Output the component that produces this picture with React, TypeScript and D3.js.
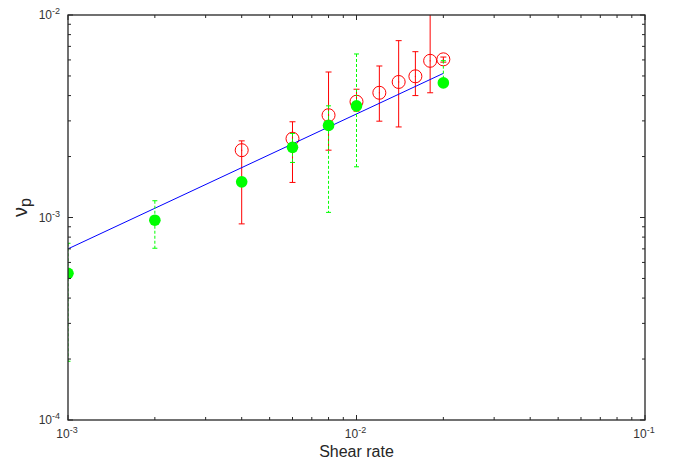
import React from "react";
import * as d3 from "d3";

// filled green series
const greenX = [0.001, 0.002, 0.004, 0.006, 0.008, 0.01, 0.02];
const greenY = [5.3e-4, 9.7e-4, 1.5e-3, 2.22e-3, 2.85e-3, 3.56e-3, 4.62e-3];
const greenLo = [1.95e-4, 7.05e-4, 1.45e-3, 1.87e-3, 1.06e-3, 1.78e-3, 4.4e-3];
const greenHi = [7.46e-4, 1.21e-3, 1.56e-3, 2.6e-3, 3.56e-3, 6.42e-3, 5.95e-3];

// open red series
const redX = [0.004, 0.006, 0.008, 0.01, 0.012, 0.014, 0.016, 0.018, 0.02];
const redY = [2.15e-3, 2.45e-3, 3.2e-3, 3.73e-3, 4.13e-3, 4.67e-3, 4.98e-3, 5.94e-3, 6.04e-3];
const redLo = [9.3e-4, 1.49e-3, 2.15e-3, 3.35e-3, 2.99e-3, 2.8e-3, 4.0e-3, 4.13e-3, 5.85e-3];
const redHi = [2.39e-3, 2.97e-3, 5.23e-3, 4.3e-3, 5.6e-3, 7.47e-3, 6.59e-3, 1.3e-2, 6.2e-3];

// power-law fit line
const fitX = [0.001, 0.02];
const fitY = [7.0e-4, 5.15e-3];

const xExp = ["-3", "-2", "-1"];
const yExp = ["-4", "-3", "-2"];

const W = 684;
const H = 463;
const m = { left: 68, right: 39, top: 15, bottom: 43 };
const font = "'Liberation Sans', Arial, Helvetica, sans-serif";
const axisColor = "#262626";

export default function App() {
  const x = d3.scaleLog().domain([1e-3, 1e-1]).range([m.left, W - m.right]);
  const y = d3.scaleLog().domain([1e-4, 1e-2]).range([H - m.bottom, m.top]);
  const [x0, x1] = x.range();
  const [y0, y1] = y.range();

  const isMajor = (v: number) => Math.abs(Math.log10(v) - Math.round(Math.log10(v))) < 1e-9;
  const xTicks = x.ticks();
  const yTicks = y.ticks();

  const line = d3
    .line<number>()
    .x((_, i) => x(fitX[i]))
    .y((d) => y(d));

  const errBar = (
    xs: number[], lo: number[], hi: number[], color: string, dash: string | undefined, cap: number, key: string
  ) =>
    xs.map((xv, i) => {
      const cx = x(xv);
      const top = y(hi[i]);
      const bot = y(lo[i]);
      return (
        <g key={key + i} stroke={color} strokeWidth={1} fill="none">
          <line x1={cx} x2={cx} y1={top} y2={bot} strokeDasharray={dash} />
          {top >= y1 && <line x1={cx - cap} x2={cx + cap} y1={top} y2={top} />}
          <line x1={cx - cap} x2={cx + cap} y1={bot} y2={bot} />
        </g>
      );
    });

  return (
    <svg width={W} height={H} style={{ position: "absolute", left: 0, top: 0, background: "#fff" }}>
      <defs>
        <clipPath id="plot">
          <rect x={x0} y={y1} width={x1 - x0} height={y0 - y1} />
        </clipPath>
      </defs>

      <g clipPath="url(#plot)">
        {errBar(redX, redLo, redHi, "#ff0000", undefined, 3, "re")}
        {redX.map((xv, i) => (
          <g key={"rc" + i}>
            <circle cx={x(xv)} cy={y(redY[i])} r={6.5} fill="none" stroke="#ff0000" strokeWidth={1} />
            <circle cx={x(xv)} cy={y(redY[i])} r={0.6} fill="#ff0000" />
          </g>
        ))}
        <path d={line(fitY) || ""} fill="none" stroke="#0000ff" strokeWidth={1} />
        {errBar(greenX, greenLo, greenHi, "#00ff00", "3,2", 2.5, "ge")}
        {greenX.map((xv, i) => (
          <circle key={"gc" + i} cx={x(xv)} cy={y(greenY[i])} r={5.8} fill="#00ff00" />
        ))}
      </g>

      {/* box */}
      <rect x={x0} y={y1} width={x1 - x0} height={y0 - y1} fill="none" stroke={axisColor} strokeWidth={1.3} />

      {/* x ticks, bottom and top, inward */}
      {xTicks.map((t, i) => {
        const len = isMajor(t) ? 5 : 3;
        return (
          <g key={"xt" + i} stroke={axisColor} strokeWidth={1}>
            <line x1={x(t)} x2={x(t)} y1={y0} y2={y0 - len} />
            <line x1={x(t)} x2={x(t)} y1={y1} y2={y1 + len} />
          </g>
        );
      })}
      {yTicks.map((t, i) => {
        const len = isMajor(t) ? 5 : 3;
        return (
          <g key={"yt" + i} stroke={axisColor} strokeWidth={1}>
            <line x1={x0} x2={x0 + len} y1={y(t)} y2={y(t)} />
            <line x1={x1} x2={x1 - len} y1={y(t)} y2={y(t)} />
          </g>
        );
      })}

      {/* tick labels */}
      {xTicks.filter(isMajor).map((t, i) => (
        <text key={"xl" + i} x={x(t) - 1} y={y0 + 18} textAnchor="middle" fontFamily={font} fontSize={12} fill="#333">
          10<tspan dy={-5} fontSize={9}>{xExp[i]}</tspan>
        </text>
      ))}
      {yTicks.filter(isMajor).map((t, i) => (
        <text key={"yl" + i} x={x0 - 8} y={y(t) + 4} textAnchor="end" fontFamily={font} fontSize={12} fill="#333">
          10<tspan dy={-5} fontSize={9}>{yExp[i]}</tspan>
        </text>
      ))}

      {/* axis labels */}
      <text x={(x0 + x1) / 2} y={H - 6} textAnchor="middle" fontFamily={font} fontSize={16} fill="#262626">
        Shear rate
      </text>
      <text
        transform={`translate(27,${(y0 + y1) / 2 - 10}) rotate(-90)`}
        textAnchor="middle"
        fontFamily={font}
        fontSize={20}
        fill="#262626"
      >
        ν<tspan dy={4} fontSize={16}>p</tspan>
      </text>
    </svg>
  );
}
